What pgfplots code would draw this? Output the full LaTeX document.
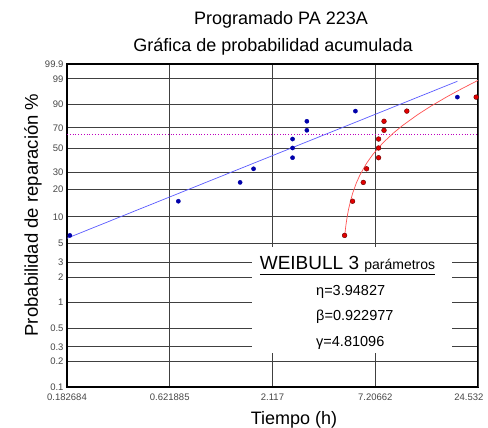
\documentclass[border=0pt]{standalone}
\usepackage{pgfplots}
\pgfplotsset{compat=1.18}
\usepackage{pgfplotstable}
\usepackage{fontspec}
\setmainfont{Liberation Sans}
\definecolor{ptblue}{RGB}{0,0,170}
\definecolor{lnblue}{RGB}{90,90,255}
\definecolor{lnred}{RGB}{255,80,80}
\definecolor{ptred}{RGB}{225,0,0}
\definecolor{magdot}{RGB}{190,0,190}
\definecolor{tickgray}{RGB}{70,70,70}

% median ranks (%), time shifted by gamma (blue) and raw time (red)
\pgfplotstableread{
x F
0.18904 6.140
0.68904 14.912
1.43904 23.684
1.68904 32.456
2.68904 41.228
2.68904 50.000
2.68904 58.772
3.18904 67.544
3.18904 76.316
5.68904 85.088
19.18904 93.860
}\bluepts
\pgfplotstableread{
t F
5.0 6.140
5.5 14.912
6.25 23.684
6.5 32.456
7.5 41.228
7.5 50.000
7.5 58.772
8.0 67.544
8.0 76.316
10.5 85.088
24.0 93.860
}\redpts
\pgfplotstableread{
t F
5.0 5.87
5.05 7.24
5.1 8.57
5.18 10.6
5.25 12.34
5.35 14.6
5.5 18.10
5.75 23.33
6.0 28.13
6.5 36.67
7.0 44.02
7.5 50.42
8 56.00
9 65.22
10 72.39
12 82.43
14 88.71
17 94.10
20 96.88
24.532 98.79
}\redcurve

\begin{document}
\begin{tikzpicture}
\begin{axis}[
  scale only axis, width=411pt, height=323pt,
  at={(0pt,0pt)}, anchor=south west,
  xmode=log, xmin=0.182684, xmax=24.532,
  ymin=-6.9073, ymax=1.9326,
  xtick={0.182684,0.621885,2.117,7.20662},
  xticklabels={0.182684,0.621885,2.117,7.20662},
  extra x ticks={24.532},
  extra x tick labels={24.532},
  extra x tick style={xticklabel style={anchor=north east, xshift=9pt}},
  ytick={-6.9073,-6.2136,-5.8076,-5.2958,-4.6001,-3.9019,-3.4913,-2.9702,-2.2504,-1.4999,-1.0309,-0.3665,0.1856,0.8340,1.5272,1.9326},
  yticklabels={0.1,0.2,0.3,0.5,1,2,3,5,10,20,30,50,70,90,99,99.9},
  minor tick num=0,
  major tick length=0pt,
  grid=major,
  major grid style={black!75, line width=0.7pt},
  axis line style={black, line width=1.6pt},
  tick label style={font=\fontsize{9.5}{11}\selectfont, text=tickgray},
  xticklabel style={yshift=-3pt},
  y filter/.expression={ln(-ln(1-y/100))},
  clip=true,
]
\addplot[magdot, dotted, line width=0.8pt] coordinates {(0.182684,63.21) (24.532,63.21)};
\addplot[lnblue, line width=0.7pt] coordinates {(0.182684,5.69) (19.189,98.65)};
\addplot[lnred, line width=0.7pt] table[x=t, y=F] {\redcurve};
\addplot[only marks, mark=*, mark size=2.1pt, mark options={fill=ptblue, draw=ptblue}] table[x=x, y=F] {\bluepts};
\addplot[only marks, mark=*, mark size=2.4pt, mark options={fill=ptred, draw=black!60!red, line width=0.4pt}] table[x=t, y=F] {\redpts};
\end{axis}
% parameter box
\fill[white] (185pt,34pt) rectangle (385pt,140pt);
\node[anchor=base, inner sep=0pt] at (280.5pt,117pt) {\fontsize{19}{22}\selectfont\underline{WEIBULL 3 {\fontsize{14}{16}\selectfont parámetros}}};
\node[anchor=west, inner sep=0pt, font=\fontsize{14.5}{17}\selectfont] at (249pt,95pt) {η=3.94827};
\node[anchor=west, inner sep=0pt, font=\fontsize{14.5}{17}\selectfont] at (249pt,70pt) {β=0.922977};
\node[anchor=west, inner sep=0pt, font=\fontsize{14.5}{17}\selectfont] at (249pt,44pt) {γ=4.81096};
% titles and labels
\node[inner sep=0pt, font=\fontsize{18}{21}\selectfont] at (214pt,367pt) {Programado PA 223A};
\node[inner sep=0pt, font=\fontsize{18}{21}\selectfont] at (206pt,340pt) {Gráfica de probabilidad acumulada};
\node[inner sep=0pt, font=\fontsize{18}{21}\selectfont] at (227pt,-33pt) {Tiempo (h)};
\node[inner sep=0pt, rotate=90, font=\fontsize{18.5}{21}\selectfont] at (-34pt,172pt) {Probabilidad de reparación \%};
\pgfresetboundingbox
\path[use as bounding box] (-67pt,-41pt) rectangle (421pt,387pt);
\end{tikzpicture}
\end{document}
